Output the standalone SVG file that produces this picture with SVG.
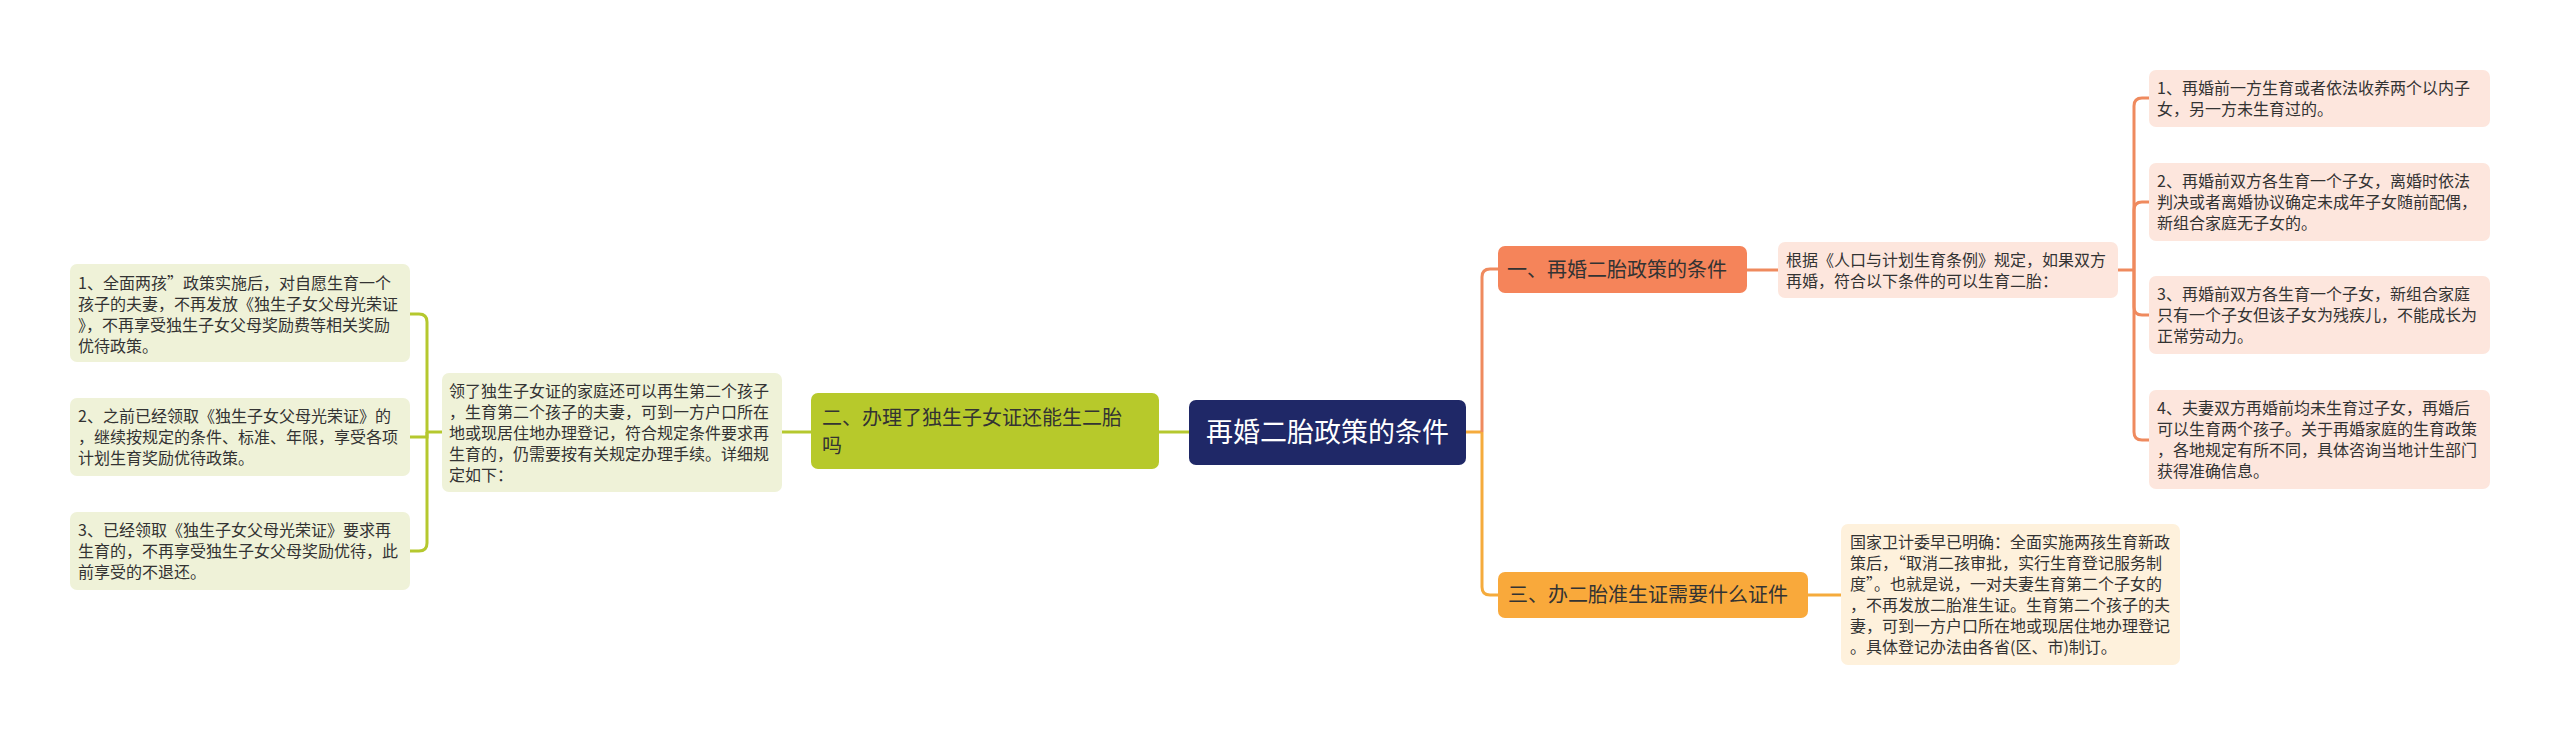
<svg xmlns="http://www.w3.org/2000/svg" width="2560" height="736" viewBox="0 0 2560 736">
<style>
text{font-family:"Noto Sans CJK SC","Noto Sans",sans-serif;fill:#333333;}
.t16{font-size:16px;}
.t20{font-size:20px;}
.root{font-size:27px;fill:#ffffff;}
.gl{fill:none;stroke:#b5c82e;stroke-width:3;}
.ol{fill:none;stroke:#ef8a5e;stroke-width:3;}
.yl{fill:none;stroke:#f5ab3c;stroke-width:3;}
.gbox{fill:#eff2d8;}
.obox{fill:#fde6dd;}
.ybox{fill:#fef1dc;}
</style>
<rect x="0" y="0" width="2560" height="736" fill="#ffffff"/>
<g id="connectors">
<path class="gl" d="M1189 432 H1159"/>
<path class="gl" d="M811 432 H782"/>
<path class="gl" d="M442 432 H427"/>
<path class="gl" d="M427 432 V322 Q427 314 419 314 H410"/>
<path class="gl" d="M427 432 V437 H410"/>
<path class="gl" d="M427 432 V543 Q427 551 419 551 H410"/>
<path class="yl" d="M1466 432 H1482"/>
<path class="ol" d="M1482 432 V277 Q1482 269 1490 269 H1498"/>
<path class="yl" d="M1482 432 V587 Q1482 595 1490 595 H1498"/>
<path class="ol" d="M1747 270 H1778"/>
<path class="ol" d="M2118 270 H2134"/>
<path class="ol" d="M2134 270 V106 Q2134 98 2142 98 H2149"/>
<path class="ol" d="M2134 270 V210 Q2134 202 2142 202 H2149"/>
<path class="ol" d="M2134 270 V307 Q2134 315 2142 315 H2149"/>
<path class="ol" d="M2134 270 V432 Q2134 440 2142 440 H2149"/>
<path class="yl" d="M1808 595 H1841"/>
</g>
<g id="root">
<rect x="1189" y="400" width="277" height="65" rx="7" fill="#1f2867"/>
<text class="root" x="1327.5" y="442" text-anchor="middle">再婚二胎政策的条件</text>
</g>
<g id="branch2">
<rect x="811" y="393" width="348" height="76" rx="7" fill="#b7c92b"/>
<text class="t20" x="822" y="425">二、办理了独生子女证还能生二胎</text>
<text class="t20" x="822" y="453">吗</text>
</g>
<g id="branch2-detail">
<rect class="gbox" x="442" y="373" width="340" height="119" rx="7"/>
<text class="t16" x="449" y="397">领了独生子女证的家庭还可以再生第二个孩子</text>
<text class="t16" x="449" y="418">，生育第二个孩子的夫妻，可到一方户口所在</text>
<text class="t16" x="449" y="439">地或现居住地办理登记，符合规定条件要求再</text>
<text class="t16" x="449" y="460">生育的，仍需要按有关规定办理手续。详细规</text>
<text class="t16" x="449" y="481">定如下：</text>
</g>
<g id="left-leaf1">
<rect class="gbox" x="70" y="264" width="340" height="98" rx="7"/>
<text class="t16" x="78" y="289">1、全面两孩”政策实施后，对自愿生育一个</text>
<text class="t16" x="78" y="310">孩子的夫妻，不再发放《独生子女父母光荣证</text>
<text class="t16" x="78" y="331">》，不再享受独生子女父母奖励费等相关奖励</text>
<text class="t16" x="78" y="352">优待政策。</text>
</g>
<g id="left-leaf2">
<rect class="gbox" x="70" y="398" width="340" height="78" rx="7"/>
<text class="t16" x="78" y="422">2、之前已经领取《独生子女父母光荣证》的</text>
<text class="t16" x="78" y="443">，继续按规定的条件、标准、年限，享受各项</text>
<text class="t16" x="78" y="464">计划生育奖励优待政策。</text>
</g>
<g id="left-leaf3">
<rect class="gbox" x="70" y="512" width="340" height="78" rx="7"/>
<text class="t16" x="78" y="536">3、已经领取《独生子女父母光荣证》要求再</text>
<text class="t16" x="78" y="557">生育的，不再享受独生子女父母奖励优待，此</text>
<text class="t16" x="78" y="578">前享受的不退还。</text>
</g>
<g id="branch1">
<rect x="1498" y="246" width="249" height="47" rx="7" fill="#f5845a"/>
<text class="t20" x="1507" y="277">一、再婚二胎政策的条件</text>
</g>
<g id="branch1-detail">
<rect class="obox" x="1778" y="242" width="340" height="56" rx="7"/>
<text class="t16" x="1786" y="266">根据《人口与计划生育条例》规定，如果双方</text>
<text class="t16" x="1786" y="287">再婚，符合以下条件的可以生育二胎：</text>
</g>
<g id="right-leaf1">
<rect class="obox" x="2149" y="70" width="341" height="57" rx="7"/>
<text class="t16" x="2157" y="94">1、再婚前一方生育或者依法收养两个以内子</text>
<text class="t16" x="2157" y="115">女，另一方未生育过的。</text>
</g>
<g id="right-leaf2">
<rect class="obox" x="2149" y="163" width="341" height="78" rx="7"/>
<text class="t16" x="2157" y="187">2、再婚前双方各生育一个子女，离婚时依法</text>
<text class="t16" x="2157" y="208">判决或者离婚协议确定未成年子女随前配偶，</text>
<text class="t16" x="2157" y="229">新组合家庭无子女的。</text>
</g>
<g id="right-leaf3">
<rect class="obox" x="2149" y="276" width="341" height="78" rx="7"/>
<text class="t16" x="2157" y="300">3、再婚前双方各生育一个子女，新组合家庭</text>
<text class="t16" x="2157" y="321">只有一个子女但该子女为残疾儿，不能成长为</text>
<text class="t16" x="2157" y="342">正常劳动力。</text>
</g>
<g id="right-leaf4">
<rect class="obox" x="2149" y="390" width="341" height="99" rx="7"/>
<text class="t16" x="2157" y="414">4、夫妻双方再婚前均未生育过子女，再婚后</text>
<text class="t16" x="2157" y="435">可以生育两个孩子。关于再婚家庭的生育政策</text>
<text class="t16" x="2157" y="456">，各地规定有所不同，具体咨询当地计生部门</text>
<text class="t16" x="2157" y="477">获得准确信息。</text>
</g>
<g id="branch3">
<rect x="1498" y="572" width="310" height="46" rx="7" fill="#f9a93b"/>
<text class="t20" x="1508" y="602">三、办二胎准生证需要什么证件</text>
</g>
<g id="branch3-detail">
<rect class="ybox" x="1841" y="524" width="339" height="141" rx="7"/>
<text class="t16" x="1850" y="548">国家卫计委早已明确：全面实施两孩生育新政</text>
<text class="t16" x="1850" y="569">策后，“取消二孩审批，实行生育登记服务制</text>
<text class="t16" x="1850" y="590">度”。也就是说，一对夫妻生育第二个子女的</text>
<text class="t16" x="1850" y="611">，不再发放二胎准生证。生育第二个孩子的夫</text>
<text class="t16" x="1850" y="632">妻，可到一方户口所在地或现居住地办理登记</text>
<text class="t16" x="1850" y="653">。具体登记办法由各省(区、市)制订。</text>
</g>
</svg>
